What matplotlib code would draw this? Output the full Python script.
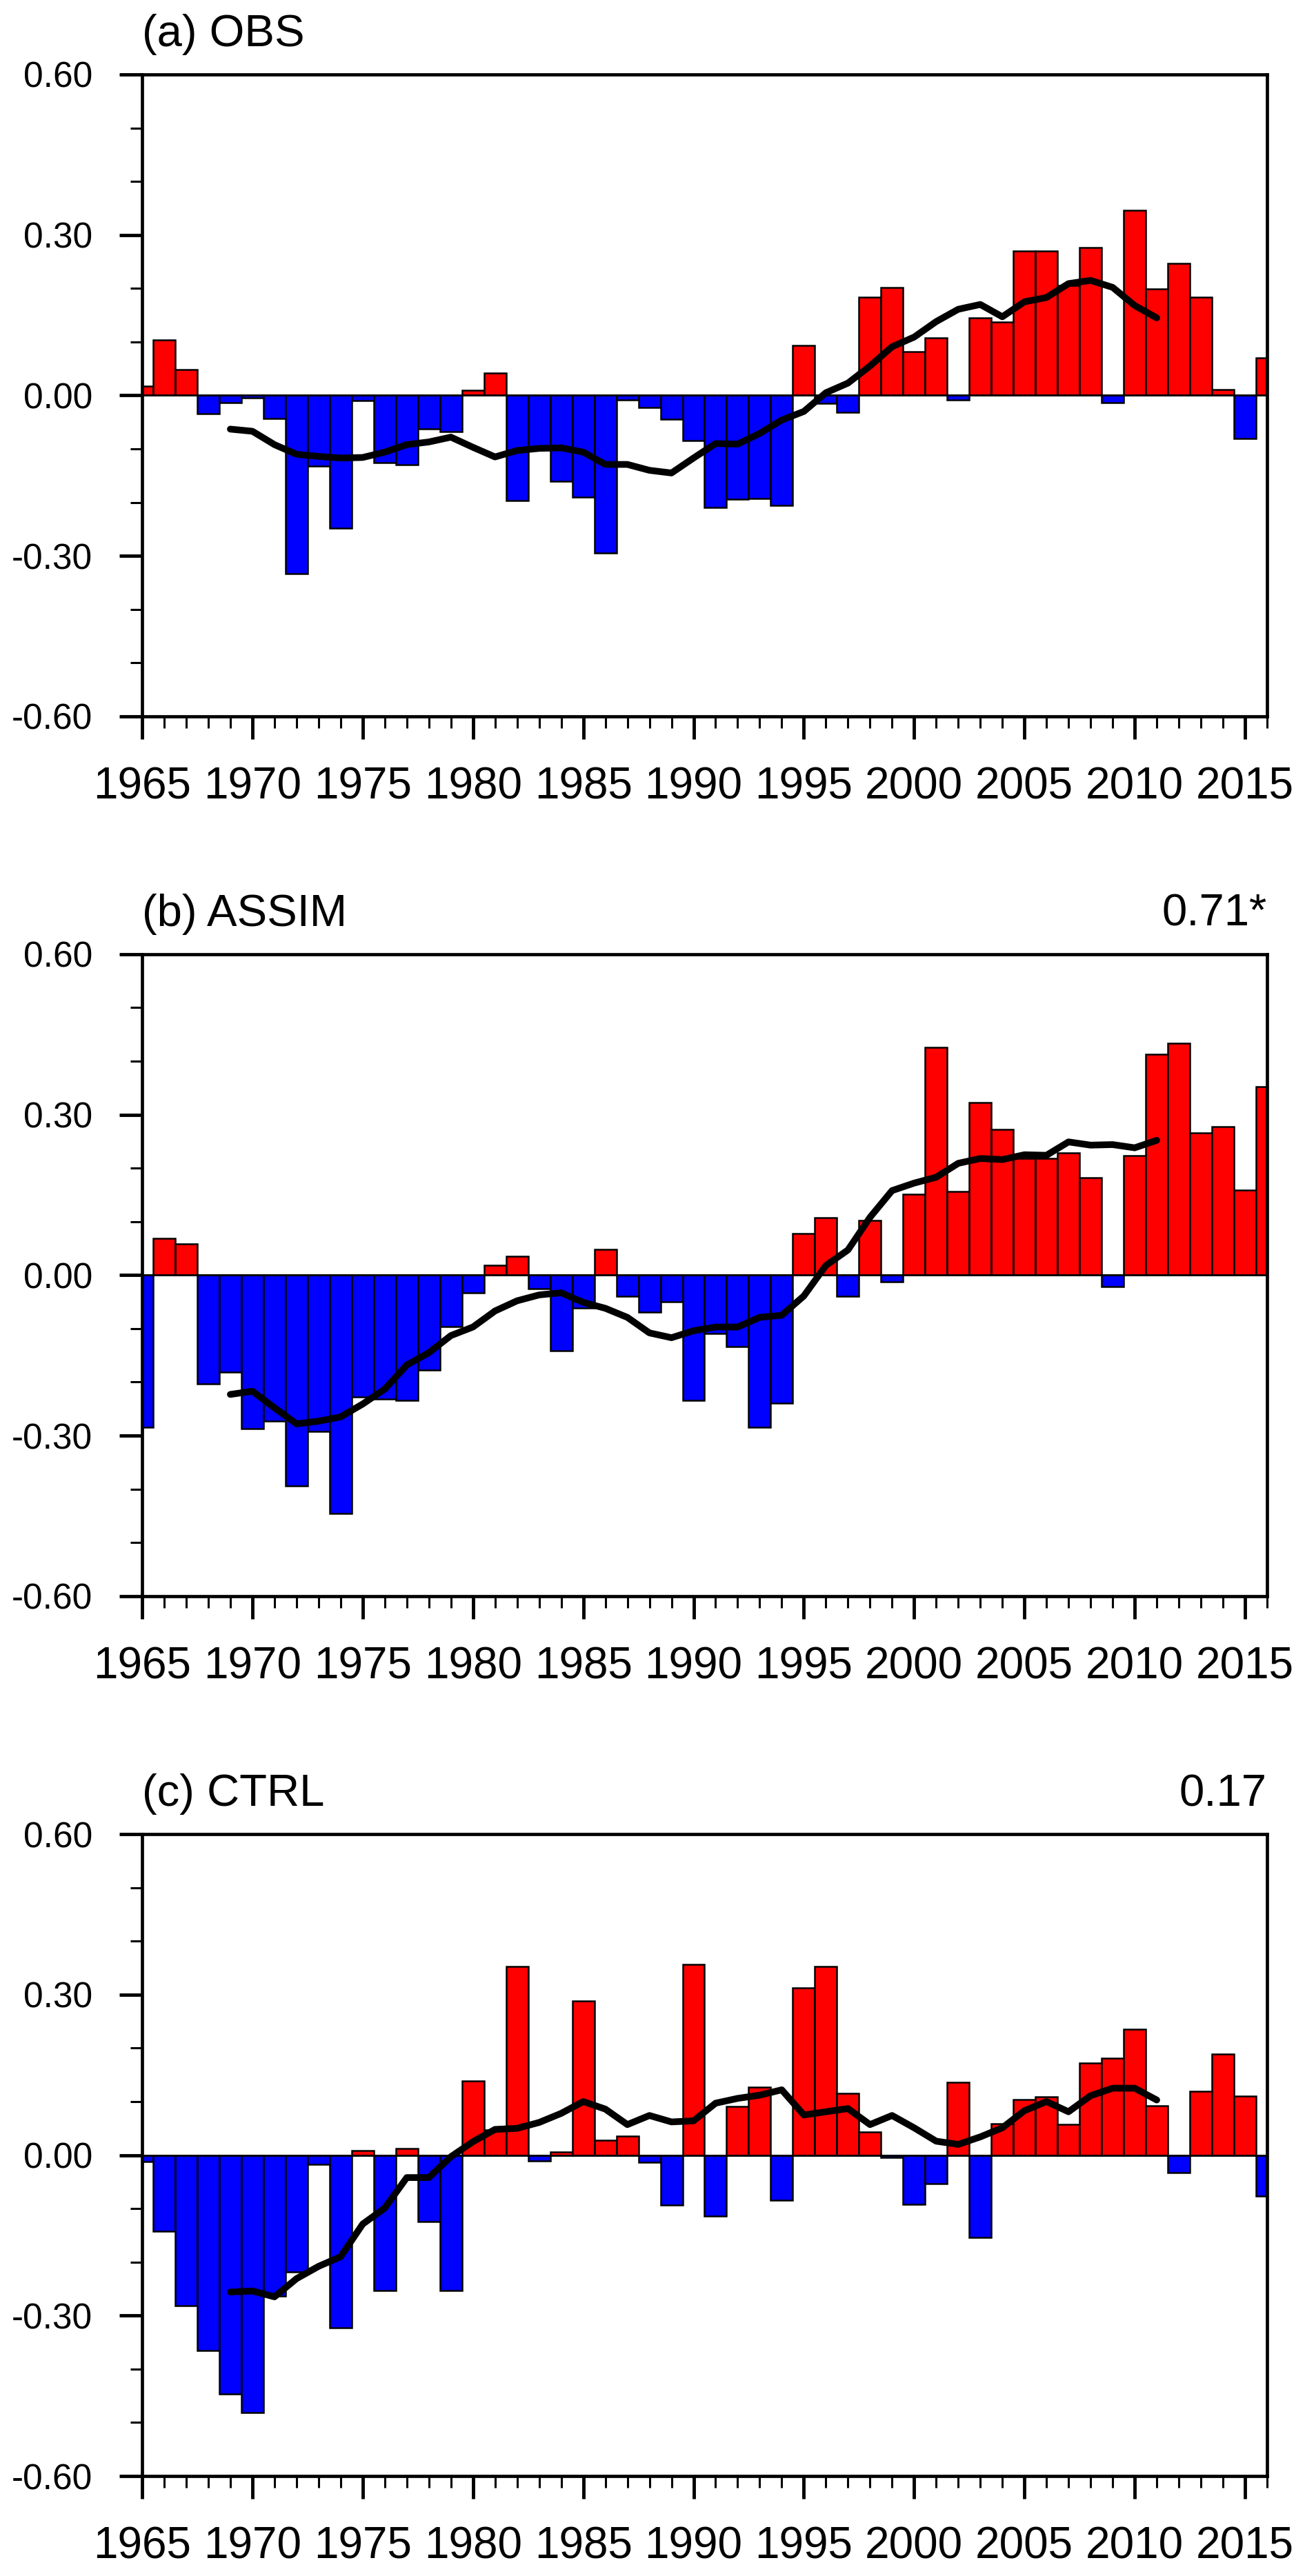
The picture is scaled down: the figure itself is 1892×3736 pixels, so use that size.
import matplotlib
matplotlib.use("Agg")
import matplotlib.pyplot as plt
from matplotlib.ticker import MultipleLocator

plt.rcParams['font.family'] = ['Liberation Sans', 'DejaVu Sans']

# ---------------- data ----------------
years = list(range(1965, 2017))
rm_years = list(range(1969, 2012))

obs = [0.017, 0.104, 0.048, -0.034, -0.014, -0.004, -0.043, -0.333, -0.132, -0.248,
       -0.010, -0.126, -0.129, -0.062, -0.068, 0.009, 0.042, -0.197, -0.100, -0.160,
       -0.190, -0.294, -0.009, -0.022, -0.044, -0.084, -0.210, -0.194, -0.193, -0.205,
       0.094, -0.015, -0.031, 0.183, 0.202, 0.082, 0.107, -0.008, 0.145, 0.137,
       0.270, 0.270, 0.206, 0.277, -0.014, 0.346, 0.199, 0.247, 0.183, 0.011,
       -0.080, 0.070]

assim = [-0.284, 0.069, 0.059, -0.203, -0.181, -0.287, -0.273, -0.394, -0.292, -0.446,
         -0.228, -0.231, -0.234, -0.177, -0.096, -0.033, 0.019, 0.035, -0.026, -0.141,
         -0.062, 0.048, -0.039, -0.069, -0.050, -0.234, -0.109, -0.134, -0.284, -0.239,
         0.078, 0.108, -0.039, 0.102, -0.012, 0.151, 0.426, 0.157, 0.322, 0.272,
         0.218, 0.218, 0.228, 0.182, -0.021, 0.224, 0.413, 0.433, 0.266, 0.278,
         0.159, 0.352]

ctrl = [-0.012, -0.143, -0.281, -0.366, -0.446, -0.482, -0.264, -0.218, -0.017, -0.323,
        0.008, -0.253, 0.012, -0.124, -0.253, 0.139, 0.047, 0.353, -0.011, 0.006,
        0.288, 0.028, 0.036, -0.014, -0.094, 0.356, -0.114, 0.091, 0.127, -0.084,
        0.312, 0.353, 0.115, 0.043, -0.005, -0.092, -0.054, 0.136, -0.154, 0.059,
        0.104, 0.109, 0.058, 0.172, 0.181, 0.235, 0.092, -0.033, 0.119, 0.189,
        0.110, -0.076]

obs_rm = [-0.063, -0.067, -0.092, -0.110, -0.114, -0.117, -0.116, -0.106, -0.092, -0.087,
          -0.078, -0.097, -0.115, -0.103, -0.099, -0.098, -0.106, -0.129, -0.129, -0.140,
          -0.145, -0.117, -0.090, -0.091, -0.071, -0.046, -0.030, 0.005, 0.023, 0.055,
          0.091, 0.109, 0.138, 0.161, 0.170, 0.147, 0.175, 0.183, 0.209, 0.215,
          0.202, 0.168, 0.145]

assim_rm = [-0.223, -0.217, -0.248, -0.278, -0.273, -0.265, -0.241, -0.213, -0.168, -0.145,
            -0.113, -0.097, -0.067, -0.048, -0.037, -0.033, -0.051, -0.062, -0.079, -0.108,
            -0.117, -0.104, -0.097, -0.097, -0.079, -0.075, -0.039, 0.018, 0.047, 0.108,
            0.158, 0.172, 0.183, 0.209, 0.218, 0.216, 0.225, 0.224, 0.249, 0.243,
            0.244, 0.238, 0.252]

ctrl_rm = [-0.256, -0.254, -0.265, -0.231, -0.208, -0.190, -0.129, -0.099, -0.042, -0.042,
           -0.003, 0.025, 0.048, 0.050, 0.061, 0.078, 0.100, 0.086, 0.057, 0.074,
           0.062, 0.064, 0.097, 0.106, 0.112, 0.122, 0.075, 0.081, 0.087, 0.057,
           0.074, 0.051, 0.026, 0.020, 0.034, 0.051, 0.083, 0.100, 0.081, 0.111,
           0.125, 0.125, 0.103]

titles = ["(a) OBS", "(b) ASSIM", "(c) CTRL"]
corr_labels = ["", "0.71*", "0.17"]
xtick_vals = list(range(1965, 2016, 5))
xtick_labels = [str(v) for v in xtick_vals]
ytick_vals = [-0.6, -0.3, 0.0, 0.3, 0.6]
ytick_labels = ["-0.60", "-0.30", "0.00", "0.30", "0.60"]

# ---------------- figure ----------------
fig = plt.figure(figsize=(18.92, 37.36), dpi=100)
bottoms = [0.7219, 0.3804, 0.0388]
series = [(obs, obs_rm), (assim, assim_rm), (ctrl, ctrl_rm)]

for i, (vals, rm) in enumerate(series):
    ax = fig.add_axes([0.1089, bottoms[i], 0.862, 0.2492])
    colors = ['#FF0000' if v > 0 else '#0000FF' for v in vals]
    ax.bar(years, vals, width=1.0, color=colors, edgecolor='black',
           linewidth=1.8, zorder=2)
    ax.axhline(0, color='black', lw=1.8, zorder=3)
    ax.plot(rm_years, rm, color='black', lw=7, solid_capstyle='round',
            solid_joinstyle='round', zorder=4)

    ax.set_xlim(1965, 2016)
    ax.set_ylim(-0.6, 0.6)
    ax.set_xticks(xtick_vals)
    ax.set_xticklabels(xtick_labels)
    ax.xaxis.set_minor_locator(MultipleLocator(1))
    ax.set_yticks(ytick_vals)
    ax.set_yticklabels(ytick_labels)
    ax.yaxis.set_minor_locator(MultipleLocator(0.1))

    ax.tick_params(which='both', direction='out', top=False, right=False)
    ax.tick_params(which='major', length=24, width=3.5)
    ax.tick_params(which='minor', length=12, width=2.2)
    ax.tick_params(axis='x', which='major', labelsize=46, pad=28)
    ax.tick_params(axis='y', which='major', labelsize=37, pad=28)
    for sp in ax.spines.values():
        sp.set_linewidth(3.4)
        sp.set_zorder(5)

    ax.text(0.0, 1.044, titles[i], transform=ax.transAxes, ha='left',
            va='baseline', fontsize=47)
    if corr_labels[i]:
        ax.text(1.0, 1.044, corr_labels[i], transform=ax.transAxes, ha='right',
                va='baseline', fontsize=47)

fig.savefig("out.png", dpi=100)
